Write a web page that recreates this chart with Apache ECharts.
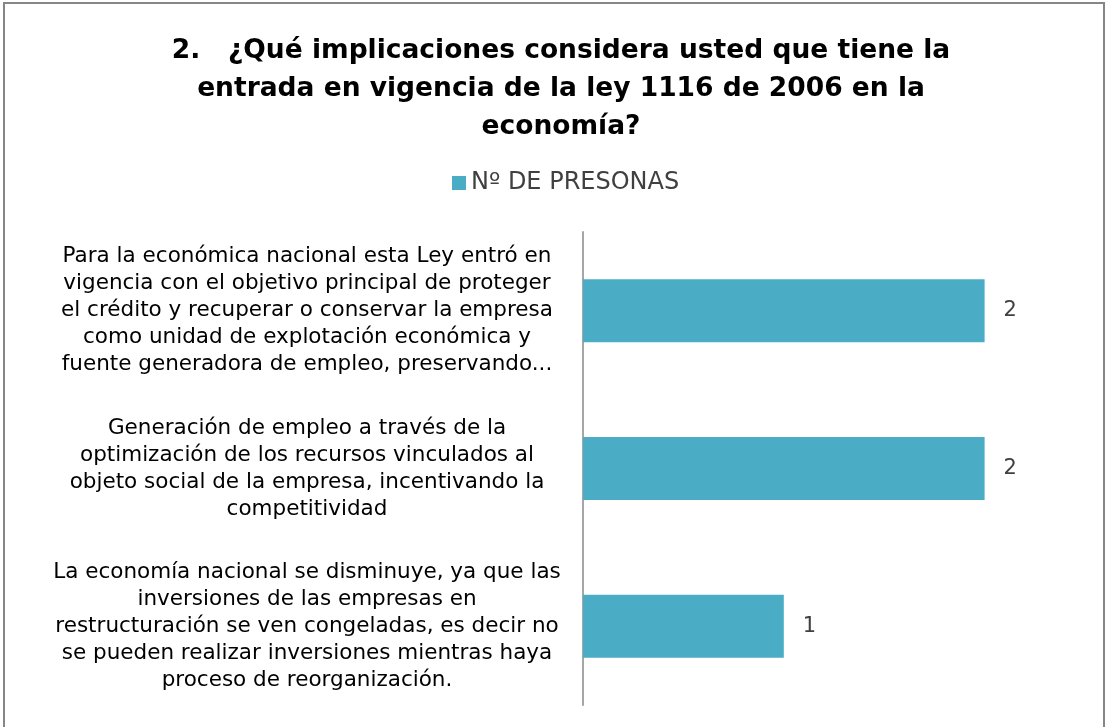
<!DOCTYPE html>
<html>
<head>
<meta charset="utf-8">
<script src="https://cdn.jsdelivr.net/npm/echarts@6/dist/echarts.min.js"></script>
<style>
  html, body { margin: 0; padding: 0; background: #fff; }
  #chart { width: 1109px; height: 727px; }
</style>
</head>
<body>
<div id="chart"></div>
<script>
const categories = [
  'Para la económica nacional esta Ley entró en\nvigencia con el objetivo principal de proteger\nel crédito y recuperar o conservar la empresa\ncomo unidad de explotación económica y\nfuente generadora de empleo, preservando...',
  'Generación de empleo a través de la\noptimización de los recursos vinculados al\nobjeto social de la empresa, incentivando la\ncompetitividad',
  'La economía nacional se disminuye, ya que las\ninversiones de las empresas en\nrestructuración se ven congeladas, es decir no\nse pueden realizar inversiones mientras haya\nproceso de reorganización.'
]
const personas = [2, 2, 1]
const seriesName = 'Nº DE PRESONAS'
const chartTitle = '2.   ¿Qué implicaciones considera usted que tiene la\nentrada en vigencia de la ley 1116 de 2006 en la\neconomía?'

const chart = echarts.init(document.getElementById('chart'))

const option = {
  animation: false,
  backgroundColor: '#fff',
  graphic: [
    {
      type: 'rect',
      shape: { x: 4, y: 3, width: 1100, height: 740 },
      style: { fill: 'none', stroke: '#868686', lineWidth: 2 },
      silent: true
    }
  ],
  title: {
    text: chartTitle,
    left: 556,
    textAlign: 'center',
    top: 27,
    textStyle: {
      fontFamily: 'DejaVu Sans',
      fontWeight: 'bold',
      fontSize: 26.5,
      lineHeight: 38,
      color: '#000'
    }
  },
  legend: {
    data: [seriesName],
    top: 166,
    left: 447,
    icon: 'rect',
    itemWidth: 14,
    itemHeight: 14,
    itemGap: 8,
    textStyle: {
      fontFamily: 'DejaVu Sans',
      fontSize: 24,
      color: '#404040'
    }
  },
  grid: {
    left: 583,
    right: 24,
    top: 232,
    bottom: 22,
    containLabel: false
  },
  xAxis: {
    type: 'value',
    min: 0,
    max: 2.5,
    show: false
  },
  yAxis: {
    type: 'category',
    inverse: true,
    data: categories,
    axisLine: { show: true, lineStyle: { color: '#A6A6A6', width: 2 } },
    axisTick: { show: false },
    axisLabel: {
      margin: 276,
      align: 'center',
      fontFamily: 'DejaVu Sans',
      fontSize: 21.5,
      lineHeight: 27,
      color: '#000'
    }
  },
  series: [
    {
      name: seriesName,
      type: 'bar',
      data: personas,
      barCategoryGap: '60%',
      itemStyle: { color: '#4BACC6' },
      label: {
        show: true,
        position: 'right',
        distance: 19,
        fontFamily: 'DejaVu Sans',
        fontSize: 21,
        color: '#404040'
      }
    }
  ]
}

chart.setOption(option)
</script>
</body>
</html>
